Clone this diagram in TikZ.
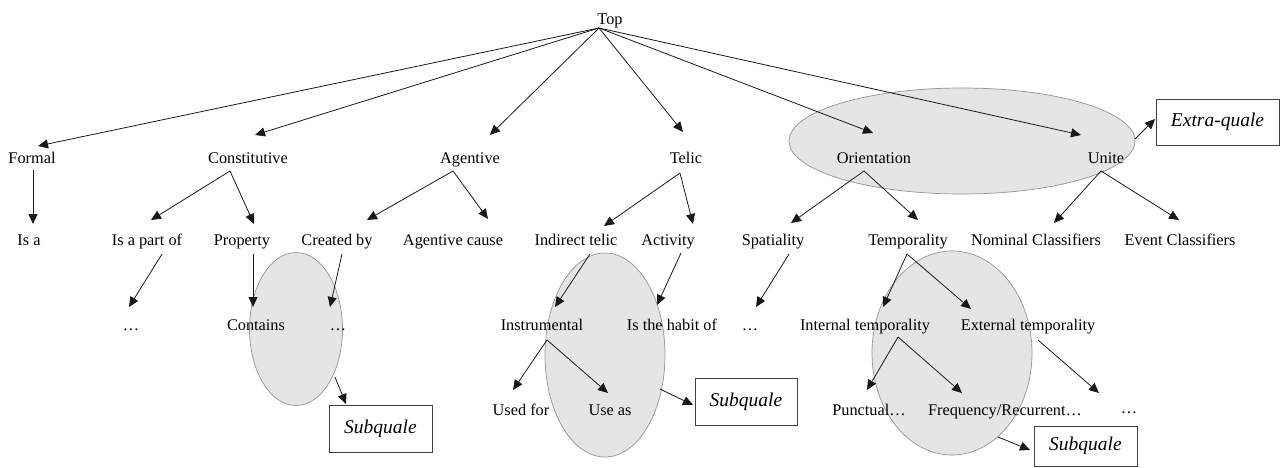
\documentclass[tikz,border=0pt]{standalone}
\usepackage{fontspec}
\setmainfont{Liberation Serif}
\usetikzlibrary{arrows.meta,shapes.geometric}
\tikzset{
  lbl/.style={font=\fontsize{16.3}{19}\selectfont, inner sep=0pt, anchor=base},
  qbox/.style={draw=black!75, line width=0.9pt, inner sep=0pt, font=\fontsize{19.5}{22}\selectfont\itshape},
  ell/.style={ellipse, draw=gray!85, fill=gray!20, line width=0.7pt, inner sep=0pt},
  arr/.style={draw=black!90, line width=0.8pt, -{Triangle[length=10pt,width=9pt]}}
}
\begin{document}
\begin{tikzpicture}[x=1pt,y=-1pt]
\useasboundingbox (0,0) rectangle (1282,468);
% ellipses (background)
\node[ell, minimum width=346pt, minimum height=106pt] (eo) at (962,141) {};
\node[ell, minimum width=93pt, minimum height=153pt] (ec) at (296,329) {};
\node[ell, minimum width=120pt, minimum height=204pt] (ei) at (605,355) {};
\node[ell, minimum width=160pt, minimum height=204pt] (et) at (952,353) {};
% labels
\node[lbl] (top) at (610,25) {Top};
\node[lbl] (formal) at (32,163) {Formal};
\node[lbl] (const) at (248,163) {Constitutive};
\node[lbl] (agent) at (470,163) {Agentive};
\node[lbl] (telic) at (686,163) {Telic};
\node[lbl] (orient) at (874,163) {Orientation};
\node[lbl] (unite) at (1106,163) {Unite};
\node[lbl] (isa) at (29,245) {Is a};
\node[lbl] (part) at (147,245) {Is a part of};
\node[lbl] (prop) at (242,245) {Property};
\node[lbl] (created) at (337,245) {Created by};
\node[lbl] (acause) at (453,245) {Agentive cause};
\node[lbl] (indirect) at (576,245) {Indirect telic};
\node[lbl] (activity) at (668,245) {Activity};
\node[lbl] (spatial) at (773,245) {Spatiality};
\node[lbl] (tempo) at (908,245) {Temporality};
\node[lbl] (nominal) at (1036,245) {Nominal Classifiers};
\node[lbl] (event) at (1180,245) {Event Classifiers};
\node[lbl] (dotsA) at (131,330) {\ldots};
\node[lbl] (contains) at (256,330) {Contains};
\node[lbl] (dotsB) at (338,330) {\ldots};
\node[lbl] (instr) at (542,330) {Instrumental};
\node[lbl] (habit) at (672,330) {Is the habit of};
\node[lbl] (dotsC) at (750,330) {\ldots};
\node[lbl] (internal) at (865,330) {Internal temporality};
\node[lbl] (external) at (1028,330) {External temporality};
\node[lbl] (usedfor) at (521,415) {Used for};
\node[lbl] (useas) at (610,415) {Use as};
\node[lbl] (punct) at (869,415) {Punctual\ldots};
\node[lbl] (freq) at (1005,415) {Frequency/Recurrent\ldots};
\node[lbl] (dotsD) at (1129,413) {\ldots};
% boxes
\node[qbox, minimum width=103pt, minimum height=47pt] (sub1) at (380.5,428.5) {Subquale};
\node[qbox, minimum width=102pt, minimum height=47pt] (sub2) at (746,401.5) {Subquale};
\node[qbox, minimum width=103pt, minimum height=40pt] (sub3) at (1085.5,446) {Subquale};
\node[qbox, minimum width=123pt, minimum height=46pt] (extra) at (1217.5,122) {Extra-quale};
% connector end points
\coordinate (apex) at (599,28);
\coordinate (formalIn) at (38,146);
\coordinate (constIn) at (255,135);
\coordinate (agentIn) at (490,135);
\coordinate (telicIn) at (683,132);
\coordinate (orientIn) at (873,133);
\coordinate (uniteIn) at (1081,135);
\coordinate (formalOut) at (33,170);
\coordinate (isaIn) at (33,224);
\coordinate (constOut) at (230,171);
\coordinate (partIn) at (151,220);
\coordinate (propIn) at (254,224);
\coordinate (agentOut) at (453,171);
\coordinate (createdIn) at (367,220);
\coordinate (acauseIn) at (488,219);
\coordinate (telicOut) at (680,173);
\coordinate (indirectIn) at (604,226);
\coordinate (activityIn) at (693,224);
\coordinate (orientOut) at (864,171);
\coordinate (spatialIn) at (791,223);
\coordinate (tempoIn) at (918,220);
\coordinate (uniteOut) at (1101,171);
\coordinate (nominalIn) at (1054,223);
\coordinate (eventIn) at (1179,220);
\coordinate (uniteX) at (1135,139);
\coordinate (extraIn) at (1155,119);
\coordinate (partOut) at (162,254);
\coordinate (dotsAIn) at (129,307);
\coordinate (propOut) at (253,254);
\coordinate (containsIn) at (253,307);
\coordinate (createdOut) at (342,254);
\coordinate (dotsBIn) at (330,307);
\coordinate (indirectOut) at (590,254);
\coordinate (instrIn) at (555,307);
\coordinate (activityOut) at (681,253);
\coordinate (habitIn) at (657,305);
\coordinate (spatialOut) at (789,254);
\coordinate (dotsCIn) at (756,307);
\coordinate (tempoOut) at (907,254);
\coordinate (internalIn) at (883,307);
\coordinate (externalIn) at (971,309);
\coordinate (ecOut) at (335,377);
\coordinate (sub1In) at (346,404);
\coordinate (instrOut) at (547,340);
\coordinate (usedforIn) at (513,390);
\coordinate (useasIn) at (608,393);
\coordinate (eiOut) at (660,389);
\coordinate (sub2In) at (693,405);
\coordinate (internalOut) at (898,337);
\coordinate (punctIn) at (867,390);
\coordinate (freqIn) at (962,393);
\coordinate (externalOut) at (1038,340);
\coordinate (dotsDIn) at (1099,393);
\coordinate (etOut) at (998,437);
\coordinate (sub3In) at (1030,450);
% connectors
\draw[arr] (apex) -- (formalIn);
\draw[arr] (apex) -- (constIn);
\draw[arr] (apex) -- (agentIn);
\draw[arr] (apex) -- (telicIn);
\draw[arr] (apex) -- (orientIn);
\draw[arr] (apex) -- (uniteIn);
\draw[arr] (formalOut) -- (isaIn);
\draw[arr] (constOut) -- (partIn);
\draw[arr] (constOut) -- (propIn);
\draw[arr] (agentOut) -- (createdIn);
\draw[arr] (agentOut) -- (acauseIn);
\draw[arr] (telicOut) -- (indirectIn);
\draw[arr] (telicOut) -- (activityIn);
\draw[arr] (orientOut) -- (spatialIn);
\draw[arr] (orientOut) -- (tempoIn);
\draw[arr] (uniteOut) -- (nominalIn);
\draw[arr] (uniteOut) -- (eventIn);
\draw[arr] (uniteX) -- (extraIn);
\draw[arr] (partOut) -- (dotsAIn);
\draw[arr] (propOut) -- (containsIn);
\draw[arr] (createdOut) -- (dotsBIn);
\draw[arr] (indirectOut) -- (instrIn);
\draw[arr] (activityOut) -- (habitIn);
\draw[arr] (spatialOut) -- (dotsCIn);
\draw[arr] (tempoOut) -- (internalIn);
\draw[arr] (tempoOut) -- (externalIn);
\draw[arr] (ecOut) -- (sub1In);
\draw[arr] (instrOut) -- (usedforIn);
\draw[arr] (instrOut) -- (useasIn);
\draw[arr] (eiOut) -- (sub2In);
\draw[arr] (internalOut) -- (punctIn);
\draw[arr] (internalOut) -- (freqIn);
\draw[arr] (externalOut) -- (dotsDIn);
\draw[arr] (etOut) -- (sub3In);
\end{tikzpicture}
\end{document}
